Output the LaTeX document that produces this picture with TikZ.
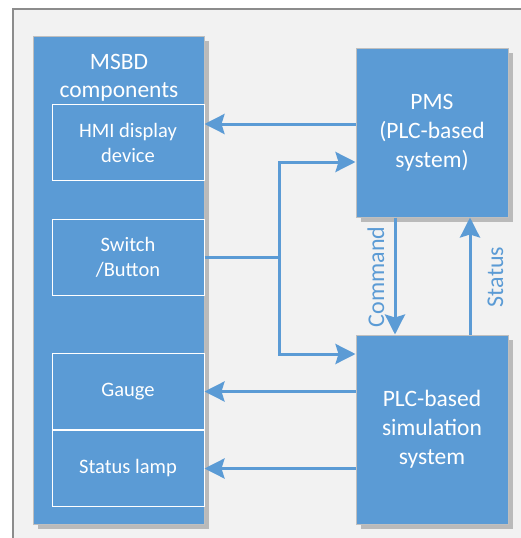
\documentclass[tikz,border=0pt]{standalone}
\usepackage{fontspec}
\setmainfont{Carlito}
\usepackage{tikz}
\usetikzlibrary{arrows.meta, positioning, shadows, calc}
\definecolor{boxblue}{RGB}{91, 155, 213}
\definecolor{framegray}{RGB}{140, 140, 140}
\definecolor{bggray}{RGB}{242, 242, 242}

\begin{document}
\begin{tikzpicture}[
    x=1pt, y=-1pt,
    block/.style={rectangle, draw=black!25, line width=1pt, fill=boxblue, text=white, align=center, minimum width=152pt, font=\fontsize{23.5}{29}\selectfont, drop shadow={shadow xshift=5pt, shadow yshift=-5pt, opacity=0.4, fill=black!60}},
    part/.style={rectangle, draw=white, line width=1pt, text=white, align=center, minimum width=152pt, minimum height=76pt, inner sep=0pt, font=\fontsize{20.5}{25}\selectfont},
    lbl/.style={text=boxblue, font=\fontsize{24}{28}\selectfont, rotate=90, anchor=base, inner sep=0pt},
    arr/.style={-{Stealth[length=20pt,width=20pt,inset=3pt]}, line width=3pt, color=boxblue}
]
    \useasboundingbox (0,0) rectangle (521,538);
    \draw[framegray, line width=1.5pt, fill=bggray] (13,9) rectangle (545,560);

    % left column
    \node[block, minimum width=171pt, minimum height=488pt] (msbd) at (118.5,280) {};
    \node[text=white, align=center, font=\fontsize{23.5}{28}\selectfont] (msbdtitle) at (119,78) {MSBD\\components};
    \node[part] (hmi) at (128,142.5) {HMI display\\device};
    \node[part, below=38pt of hmi] (switch) {Switch\\/Button};
    \node[part, below=57pt of switch] (gauge) {Gauge};
    \node[part, below=0pt of gauge] (lamp) {Status lamp};

    % right column
    \node[block, minimum height=169pt] (pms) at (432,132.5) {PMS\\(PLC-based\\system)};
    \node[block, minimum height=189pt, below=117pt of pms] (plcsim) {PLC-based\\simulation\\system};

    \coordinate (bus) at ($(switch.east)+(75,0)$);
    \coordinate (hmiport) at ([yshift=18.5pt]hmi.east);

    \draw[arr] (pms.west |- hmiport) -- (hmiport);
    \draw[line width=3pt, boxblue] (switch.east) -- (bus);
    \draw[arr] (bus) |- ([yshift=-29.5pt]pms.west);
    \draw[arr] (bus) |- ([yshift=75.5pt]plcsim.west);
    \draw[arr] ([xshift=-37pt]pms.south) -- ([xshift=-37pt]plcsim.north);
    \draw[arr] ([xshift=38pt]plcsim.north) -- ([xshift=38pt]pms.south);
    \draw[arr] (plcsim.west |- gauge.east) -- (gauge.east);
    \draw[arr] (plcsim.west |- lamp.east) -- (lamp.east);

    \node[lbl] (cmdlbl) at (384,277) {Command};
    \node[lbl] (statlbl) at (503,277) {Status};
\end{tikzpicture}
\end{document}
